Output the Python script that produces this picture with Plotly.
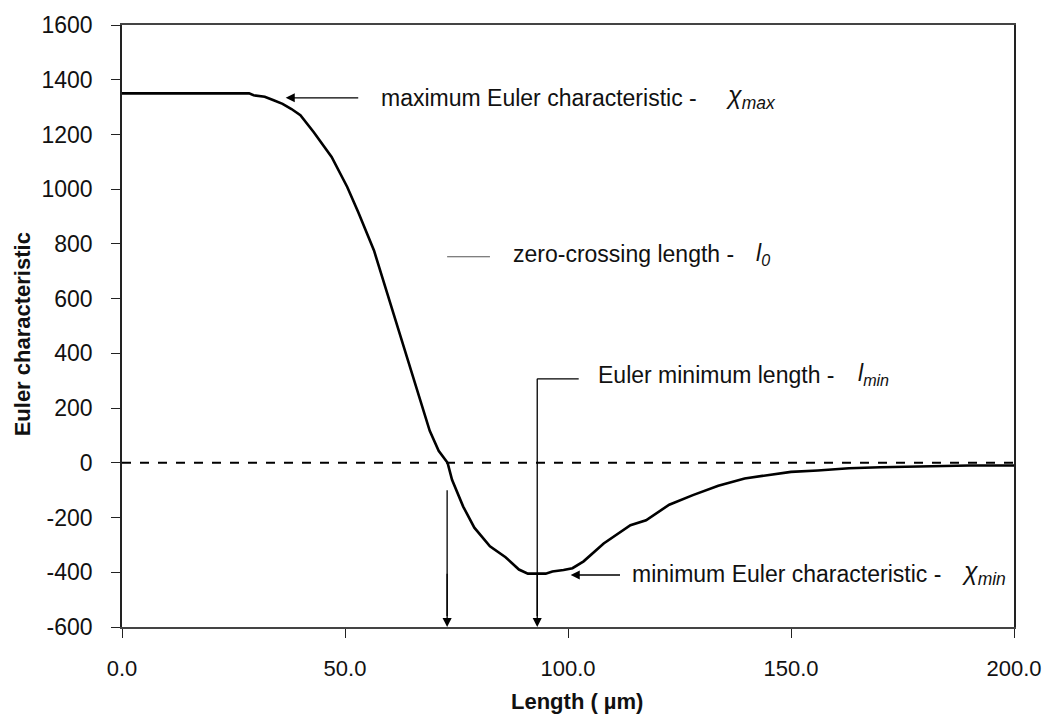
import plotly.graph_objects as go

# ---- data ----
length_um = [0, 28.5, 29.5, 32, 34, 36, 38, 40, 43, 47, 50.5, 53, 56.5, 59.5, 62, 65, 69, 71, 73,
             74, 76.5, 79, 82.5, 86, 89, 91, 95, 96.5, 99, 101, 103.5, 108, 114, 117.5, 122.7,
             128, 133.7, 139.6, 144.7, 150, 156, 163, 170, 180, 190, 200]
euler_char = [1350, 1350, 1343, 1338, 1325, 1312, 1293, 1270, 1208, 1118, 1008, 915, 776, 618, 490,
              330, 117, 44, 0, -62, -160, -237, -305, -345, -390, -405, -405, -397, -392, -385,
              -360, -295, -228, -210, -153, -118, -84, -57, -45, -33, -28, -20, -16, -12, -10, -10]
x_ticks = [0, 50, 100, 150, 200]
x_tick_labels = ["0.0", "50.0", "100.0", "150.0", "200.0"]
y_ticks = [-600, -400, -200, 0, 200, 400, 600, 800, 1000, 1200, 1400, 1600]
y_tick_labels = ["-600", "-400", "-200", "0", "200", "400", "600", "800", "1000", "1200",
                 "1400", "1600"]

l_zero = 72.9
l_min = 93.1

FONT = "Liberation Sans, Arial, Helvetica, sans-serif"
FS = 23

fig = go.Figure()
fig.add_trace(go.Scatter(x=length_um, y=euler_char, mode="lines",
                         line=dict(color="black", width=2.6), showlegend=False,
                         hoverinfo="skip"))

shapes = [
    # zero line (dashed)
    dict(type="line", xref="x", yref="y", x0=0, x1=200, y0=0, y1=0,
         line=dict(color="black", width=2, dash="dash")),
    # l_min elbow: vertical part + horizontal leader
    dict(type="line", xref="x", yref="y", x0=l_min, x1=l_min, y0=307, y1=-560,
         line=dict(color="black", width=1.3)),
    dict(type="line", xref="x", yref="y", x0=l_min, x1=102.4, y0=307, y1=307,
         line=dict(color="black", width=1.3)),
    # l0 leader stub
    dict(type="line", xref="x", yref="y", x0=l_zero, x1=82.5, y0=753, y1=753,
         line=dict(color="#555", width=1.2)),
    # l0 vertical down to axis
    dict(type="line", xref="x", yref="y", x0=l_zero, x1=l_zero, y0=-100, y1=-560,
         line=dict(color="black", width=1.3)),
]

annotations = []


def arrow(x, y, ax, ay):
    annotations.append(dict(x=x, y=y, ax=ax, ay=ay, xref="x", yref="y", axref="x", ayref="y",
                            text="", showarrow=True, arrowhead=2, arrowsize=1.4,
                            arrowwidth=1.3, arrowcolor="black"))


arrow(36.7, 1334, 53.3, 1334)          # to chi_max
arrow(100.6, -410, 112.0, -410)        # to chi_min
arrow(l_zero, -600, l_zero, -400)      # l0 arrow
arrow(l_min, -600, l_min, -400)        # l_min arrow


def label(x, y, text, size=FS):
    annotations.append(dict(x=x, y=y, xref="x", yref="y", text=text, showarrow=False,
                            xanchor="left", yanchor="middle",
                            font=dict(family=FONT, size=size, color="#111")))


label(57.7, 1333, "maximum Euler characteristic -")
label(135.0, 1337, "<i>χ</i><sub><i>max</i></sub>", size=25)
label(87.3, 762, "zero-crossing length -")
label(141.6, 762, "<i>l</i><sub><i>0</i></sub>")
label(106.2, 321, "Euler minimum length -")
label(164.6, 321, "<i>l</i><sub><i>min</i></sub>")
label(113.9, -405, "minimum Euler characteristic -")
label(188.0, -401, "<i>χ</i><sub><i>min</i></sub>", size=25)

# axis titles
annotations.append(dict(xref="paper", yref="paper", x=(583 - 122) / 904, y=-(701 - 627) / 602,
                        text="<b>Length ( µm)</b>", showarrow=False, xanchor="center",
                        yanchor="middle", font=dict(family=FONT, size=22, color="#111")))
annotations.append(dict(xref="paper", yref="paper", x=-(122 - 21) / 904, y=(627 - 334) / 602,
                        text="<b>Euler characteristic</b>", showarrow=False, textangle=-90,
                        xanchor="center", yanchor="middle",
                        font=dict(family=FONT, size=22, color="#111")))

fig.update_layout(
    width=1054, height=715,
    margin=dict(l=122, r=28, t=25, b=88),
    paper_bgcolor="white", plot_bgcolor="white",
    shapes=shapes, annotations=annotations,
    font=dict(family=FONT, size=FS, color="#111"),
    xaxis=dict(range=[0, 200], tickvals=x_ticks, ticktext=x_tick_labels,
               showgrid=False, zeroline=False, showline=True, mirror=True,
               linecolor="#444", linewidth=1.5, ticks="outside", ticklen=9,
               tickcolor="#222", tickwidth=1.3, ticklabelstandoff=12,
               ticklabeloverflow="allow",
               tickfont=dict(family=FONT, size=22, color="#111")),
    yaxis=dict(range=[-600, 1600], tickvals=y_ticks, ticktext=y_tick_labels,
               showgrid=False, zeroline=False, showline=True, mirror=True,
               linecolor="#222", linewidth=1.5, ticks="outside", ticklen=9,
               tickcolor="#222", tickwidth=1.3, ticklabelstandoff=14,
               tickfont=dict(family=FONT, size=FS, color="#111")),
)

fig.write_html("out.html", config={"displayModeBar": False},
               post_script="document.body.style.margin='0';document.body.style.overflow='hidden';")
